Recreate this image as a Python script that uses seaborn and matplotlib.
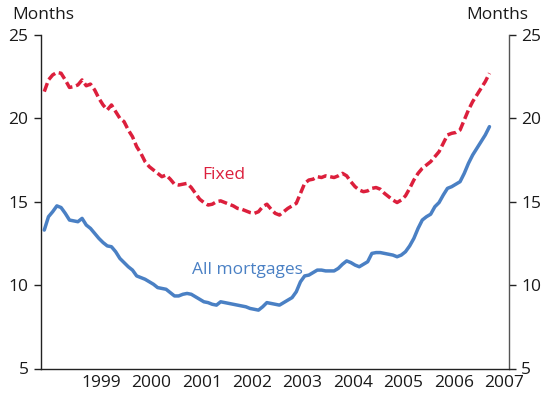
import numpy as np
import pandas as pd
import matplotlib
matplotlib.use("Agg")
import matplotlib.pyplot as plt
import seaborn as sns

# Monthly observations, May 1998 to March 2007 (months)
months = pd.period_range("1998-05", "2007-03", freq="M")

fixed = [
    21.6, 22.3, 22.6, 22.75, 22.7, 22.3, 21.85, 21.9, 22.0, 22.3,
    21.95, 22.05, 21.7, 21.2, 20.8, 20.5, 20.8, 20.4, 20.0, 19.8,
    19.3, 18.9, 18.3, 17.9, 17.4, 17.1, 16.9, 16.7, 16.5, 16.6,
    16.35, 16.05, 16.0, 16.05, 16.1, 15.85, 15.5, 15.15, 14.95, 14.8,
    14.85, 15.0, 15.05, 14.95, 14.85, 14.75, 14.6, 14.55, 14.45, 14.35,
    14.3, 14.4, 14.7, 14.85, 14.55, 14.3, 14.2, 14.4, 14.6, 14.75,
    14.9, 15.5, 16.1, 16.3, 16.35, 16.5, 16.45, 16.55, 16.5, 16.45,
    16.55, 16.7, 16.55, 16.2, 15.9, 15.7, 15.6, 15.65, 15.8, 15.85,
    15.75, 15.5, 15.3, 15.1, 14.95, 15.1, 15.35, 15.8, 16.3, 16.7,
    17.0, 17.2, 17.4, 17.7, 18.0, 18.5, 19.0, 19.1, 19.15, 19.3,
    19.9, 20.5, 21.0, 21.4, 21.8, 22.2, 22.7,
]

all_mortgages = [
    13.3, 14.1, 14.4, 14.75, 14.65, 14.3, 13.9, 13.85, 13.8, 14.0,
    13.6, 13.4, 13.1, 12.8, 12.55, 12.35, 12.3, 12.0, 11.6, 11.35,
    11.1, 10.9, 10.55, 10.45, 10.35, 10.2, 10.05, 9.85, 9.8, 9.75,
    9.55, 9.35, 9.35, 9.45, 9.5, 9.45, 9.3, 9.15, 9.0, 8.95,
    8.85, 8.8, 9.0, 8.95, 8.9, 8.85, 8.8, 8.75, 8.7, 8.6,
    8.55, 8.5, 8.7, 8.95, 8.9, 8.85, 8.8, 8.95, 9.1, 9.25,
    9.6, 10.2, 10.55, 10.6, 10.75, 10.9, 10.9, 10.85, 10.85, 10.85,
    11.0, 11.25, 11.45, 11.35, 11.2, 11.1, 11.25, 11.4, 11.9, 11.95,
    11.95, 11.9, 11.85, 11.8, 11.7, 11.8, 12.0, 12.35, 12.8, 13.4,
    13.9, 14.1, 14.25, 14.7, 14.95, 15.4, 15.8, 15.9, 16.05, 16.2,
    16.7, 17.3, 17.8, 18.2, 18.6, 19.0, 19.5,
]

years = list(range(1999, 2008))
year_labels = [str(y) for y in years]
y_ticks = [5, 10, 15, 20, 25]

RED = "#DC1F3C"
BLUE = "#4A80C4"

sns.set_theme(style="white")
plt.rcParams["font.family"] = ["Open Sans", "DejaVu Sans"]

# decimal-year position at mid-month
t = np.array([p.year + (p.month - 0.5) / 12 for p in months])
df = pd.DataFrame({"t": t, "Fixed": fixed, "All mortgages": all_mortgages})

fig = plt.figure(figsize=(5.41, 3.96), dpi=100)
ax = fig.add_axes([41 / 541, 1 - 368.5 / 396, (508.7 - 41) / 541, (368.5 - 34.9) / 396])

sns.lineplot(data=df, x="t", y="Fixed", ax=ax, color=RED, linewidth=2.5,
             linestyle=(0, (2.6, 1.1)))
sns.lineplot(data=df, x="t", y="All mortgages", ax=ax, color=BLUE, linewidth=2.5)

ax.set_xlim(1998.31, 2007.59)
ax.set_ylim(5, 25)
ax.set_xlabel("")
ax.set_ylabel("")

for side in ["left", "right", "bottom"]:
    ax.spines[side].set_visible(True)
    ax.spines[side].set_color("#222222")
    ax.spines[side].set_linewidth(1.0)
ax.spines["right"].set_color("#555555")
ax.spines["top"].set_visible(False)

# year boundaries as ticks, labels at mid-year
ax.set_xticks(years)
ax.set_xticklabels([])
ax.set_xticks([y + 0.5 for y in years], minor=True)
ax.set_xticklabels(year_labels, minor=True)
ax.tick_params(axis="x", which="major", direction="out", length=5, width=1, color="#222222")
ax.tick_params(axis="x", which="minor", length=0, pad=5, labelsize=12.5, labelcolor="#1a1a1a")
for lab in ax.get_xticklabels(minor=True):
    lab.set_clip_on(False)

ax.set_yticks(y_ticks)
ax.set_yticklabels([str(v) for v in y_ticks])
ax.tick_params(axis="y", which="major", direction="out", length=5, width=1,
               left=True, right=True, labelleft=True, labelright=True,
               labelsize=12.5, labelcolor="#1a1a1a", color="#222222", pad=4)

fig.text(12 / 541, 1 - 15 / 396, "Months", ha="left", va="center", fontsize=12.5, color="#1a1a1a")
fig.text(528 / 541, 1 - 15 / 396, "Months", ha="right", va="center", fontsize=12.5, color="#1a1a1a")

ax.text(2001.94, 16.6, "Fixed", color=RED, fontsize=12.5, ha="center", va="center")
ax.text(2002.4, 10.9, "All mortgages", color=BLUE, fontsize=12.5, ha="center", va="center")

fig.savefig("out.png", dpi=100)
